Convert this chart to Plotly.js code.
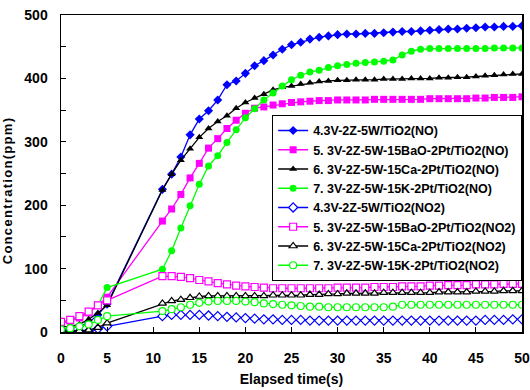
<!DOCTYPE html>
<html>
<head>
<meta charset="utf-8">
<script src="https://cdn.plot.ly/plotly-3.0.1.min.js"></script>
<style>
  html, body { margin: 0; padding: 0; background: #fff; }
  #chart { width: 530px; height: 390px; }
  .js-plotly-plot .ytitle { letter-spacing: 1.3px; translate: 0px 17px; }
</style>
</head>
<body>
<div id="chart"></div>
<script>
// Elapsed time (s)
const time = [0,1,2,3,4,5,11,12,13,14,15,16,17,18,19,20,21,22,23,24,25,26,27,28,29,30,31,32,33,34,35,36,37,38,39,40,41,42,43,44,45,46,47,48,49,50];

const seriesNames = [
  "4.3V-2Z-5W/TiO2(NO)",
  "5. 3V-2Z-5W-15BaO-2Pt/TiO2(NO)",
  "6. 3V-2Z-5W-15Ca-2Pt/TiO2(NO)",
  "7. 3V-2Z-5W-15K-2Pt/TiO2(NO)",
  "4.3V-2Z-5W/TiO2(NO2)",
  "5. 3V-2Z-5W-15BaO-2Pt/TiO2(NO2)",
  "6. 3V-2Z-5W-15Ca-2Pt/TiO2(NO2)",
  "7. 3V-2Z-5W-15K-2Pt/TiO2(NO2)"
];

// NO concentrations (ppm)
const no_4 = [5,6,9,15,27,44,225,249,276,311,336,349,366,390,396,408,420,428,437,446,453,457,462,465,467,469,470,470,471,471,472,473,474,474,475,476,477,478,478,479,480,481,481,482,482,483];
const no_5 = [13,17,22,30,42,55,175,194,217,243,266,290,305,321,334,345,353,355,358,360,362,363,364,365,365,366,366,366,366,367,367,367,367,367,367,368,368,368,368,368,369,369,370,370,370,371];
const no_6 = [8,9,12,20,30,42,224,249,271,289,307,321,332,341,353,362,369,375,382,386,388,391,393,395,396,397,397,398,398,398,399,399,399,400,400,400,401,401,402,402,403,404,405,406,407,407];
const no_7 = [15,18,24,32,42,70,99,128,164,199,233,262,278,299,319,338,352,366,377,388,398,405,410,413,417,420,422,424,425,426,427,429,437,443,446,447,447,447,447,447,447,447,448,448,448,448];

// NO2 concentrations (ppm)
const no2_4 = [3,2,1,1,5,9,25,27,27,27,27,26,25,24,23,22,21,20,20,19,19,19,18,18,18,18,18,18,18,18,18,18,18,18,18,18,18,18,18,18,18,19,19,19,20,20];
const no2_5 = [16,19,25,32,42,50,88,88,87,85,82,80,77,75,73,72,71,70,69,69,69,69,69,69,69,70,70,70,70,71,71,71,72,72,72,73,73,74,74,74,75,75,75,76,76,76];
const no2_6 = [1,1,2,3,7,14,45,49,51,54,56,57,57,57,57,57,57,57,58,58,58,58,59,59,60,60,61,61,61,61,62,62,62,62,62,62,63,63,63,63,64,64,64,65,65,65];
const no2_7 = [4,6,9,12,19,25,33,36,39,43,46,48,49,49,49,48,47,45,44,43,42,41,40,40,39,39,39,39,39,39,39,40,43,43,43,43,43,43,43,43,43,43,43,43,43,43];

const yTickVals = [0,100,200,300,400,500];
const yMinorVals = [0,50,100,150,200,250,300,350,400,450,500];
const xTickVals = [0,5,10,15,20,25,30,35,40,45,50];

const FONT = '"Liberation Sans", Arial, sans-serif';
const colors = ['#0000FF', '#FF00FF', '#000000', '#00FF00'];
const filledSymbols = ['diamond', 'square', 'triangle-up', 'circle'];

const noData = [no_4, no_5, no_6, no_7];
const no2Data = [no2_4, no2_5, no2_6, no2_7];

const traces = [];
noData.forEach((ys, i) => {
  traces.push({
    x: time, y: ys, name: seriesNames[i], type: 'scatter', mode: 'lines+markers',
    line: { color: colors[i], width: 1.3 },
    marker: { symbol: filledSymbols[i], size: 7, color: colors[i], line: { width: 0 } }
  });
});
no2Data.forEach((ys, i) => {
  traces.push({
    x: time, y: ys, name: seriesNames[4 + i], type: 'scatter', mode: 'lines+markers',
    line: { color: colors[i], width: 1.3 },
    marker: { symbol: filledSymbols[i], size: 7, color: '#FFFFFF', line: { color: colors[i], width: 1.2 } }
  });
});

const layout = {
  width: 530, height: 390,
  margin: { l: 61, r: 8, t: 15, b: 58, autoexpand: false },
  paper_bgcolor: '#fff', plot_bgcolor: '#fff',
  font: { family: FONT, size: 13, color: '#000', weight: 'bold' },
  showlegend: true,
  legend: {
    x: 0.458, y: 0.685, xanchor: 'left', yanchor: 'top',
    bgcolor: '#fff', bordercolor: '#000', borderwidth: 1,
    font: { family: FONT, size: 12.5, color: '#000', weight: 'bold' },
    tracegroupgap: 0
  },
  xaxis: {
    range: [0, 50], tickvals: xTickVals, ticktext: xTickVals.map(String),
    ticks: 'inside', ticklen: 5, tickcolor: '#000', tickwidth: 1,
    showline: true, linecolor: '#000', linewidth: 1.5, mirror: true,
    showgrid: false, zeroline: false,
    ticklabelstandoff: 13, ticklabeloverflow: 'allow',
    tickfont: { family: FONT, size: 14, weight: 'bold' },
    title: { text: 'Elapsed time(s)', font: { family: FONT, size: 14, weight: 'bold' }, standoff: 9 }
  },
  yaxis: {
    range: [0, 500], tickmode: 'array',
    tickvals: yMinorVals,
    ticktext: yMinorVals.map(v => yTickVals.includes(v) ? String(v) : ''),
    ticks: 'inside', ticklen: 5, tickcolor: '#000', tickwidth: 1,
    showline: true, linecolor: '#000', linewidth: 1.5, mirror: true,
    showgrid: false, zeroline: false,
    ticklabelstandoff: 9, ticklabeloverflow: 'allow',
    tickfont: { family: FONT, size: 14, weight: 'bold' },
    title: { text: 'Concentration(ppm)', font: { family: FONT, size: 13, weight: 'bold' }, standoff: 9 }
  }
};

Plotly.newPlot('chart', traces, layout, { displayModeBar: false, staticPlot: true });
</script>
</body>
</html>
